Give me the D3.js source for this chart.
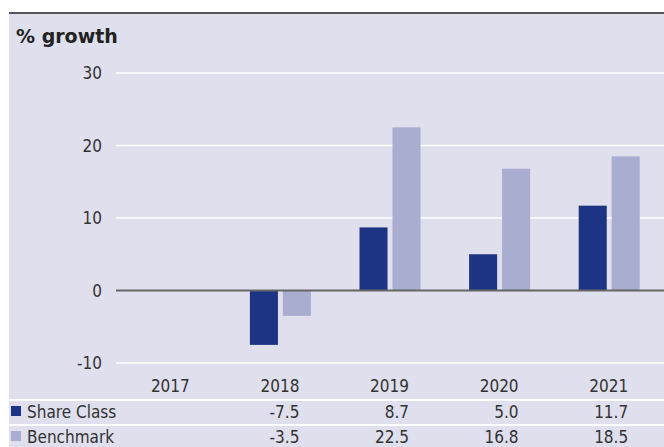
<!DOCTYPE html>
<html>
<head>
<meta charset="utf-8">
<script src="https://cdn.jsdelivr.net/npm/d3@7"></script>
<style>
  body { margin: 0; background: #fff; }
  svg { display: block; }
  text { font-family: "DejaVu Sans Condensed", "DejaVu Sans", sans-serif; fill: #333; }
</style>
</head>
<body>
<svg id="chart"></svg>
<script>
// data
var years = ["2017", "2018", "2019", "2020", "2021"];
var shareClass = [null, -7.5, 8.7, 5.0, 11.7];
var benchmark = [null, -3.5, 22.5, 16.8, 18.5];
var seriesNames = ["Share Class", "Benchmark"];
var yTicks = [-10, 0, 10, 20, 30];

var width = 664, height = 447;
var margin = {top: 13, left: 116, right: 0};
var colors = ["#1c3483", "#a9adcf"];

// plain hyphen instead of d3's unicode minus
var fmt = d => d3.format(".1f")(d).replace("\u2212", "-");

var svg = d3.select("#chart")
    .attr("width", width)
    .attr("height", height);

// panel background
svg.append("rect")
    .attr("x", 9).attr("y", margin.top)
    .attr("width", width - 9).attr("height", height - margin.top)
    .attr("fill", "#dfdfed");

svg.append("line")
    .attr("x1", 9).attr("x2", width)
    .attr("y1", margin.top).attr("y2", margin.top)
    .attr("stroke", "#555").attr("stroke-width", 2);

svg.append("text")
    .attr("x", 16).attr("y", 43)
    .style("font-family", "'DejaVu Sans', sans-serif")
    .style("font-weight", "bold")
    .style("font-size", "19px")
    .style("fill", "#222")
    .text("% growth");

var x = d3.scaleBand()
    .domain(years)
    .range([margin.left, width - margin.right]);

var y = d3.scaleLinear()
    .domain([-10, 30])
    .range([363, 73]);

var x1 = d3.scaleBand()
    .domain(seriesNames)
    .range([0, 61])
    .paddingInner(0.15);

// gridlines
svg.append("g")
    .selectAll("line")
    .data(yTicks.filter(d => d != 0))
    .enter().append("line")
    .attr("x1", margin.left).attr("x2", width)
    .attr("y1", d => y(d)).attr("y2", d => y(d))
    .attr("stroke", "#fff").attr("stroke-width", 1.5);

// y axis labels
var yAxis = d3.axisLeft(y).tickValues(yTicks).tickSize(0).tickPadding(14)
    .tickFormat(d => String(d));
var gy = svg.append("g")
    .attr("transform", "translate(" + margin.left + ",0)")
    .call(yAxis);
gy.select(".domain").remove();
gy.selectAll("text")
    .style("font-size", "17px")
    .attr("font-family", null)
    .attr("dy", "0.35em");

// bars
var rows = years.map((yr, i) => ({year: yr, values: [shareClass[i], benchmark[i]]}));
var groups = svg.append("g")
    .selectAll("g")
    .data(rows)
    .enter().append("g")
    .attr("transform", d => "translate(" + (x(d.year) + x.bandwidth() / 2 - 30.5) + ",0)");

groups.selectAll("rect")
    .data(d => d.values.map((v, j) => ({name: seriesNames[j], value: v, j: j})))
    .enter().append("rect")
    .filter(d => d.value != null)
    .attr("x", d => x1(d.name))
    .attr("width", x1.bandwidth())
    .attr("y", d => y(Math.max(0, d.value)))
    .attr("height", d => Math.abs(y(d.value) - y(0)))
    .attr("fill", d => colors[d.j]);

// zero line
svg.append("line")
    .attr("x1", margin.left).attr("x2", width)
    .attr("y1", y(0)).attr("y2", y(0))
    .attr("stroke", "#666").attr("stroke-width", 2);

// data table
var rowY = [392, 418, 443];
var sepY = [400, 425];

svg.append("g")
    .selectAll("line")
    .data(sepY)
    .enter().append("line")
    .attr("x1", 9).attr("x2", width)
    .attr("y1", d => d).attr("y2", d => d)
    .attr("stroke", "#fff").attr("stroke-width", 2);

var colRight = d => x(d) + x.bandwidth() / 2 + 19;

svg.append("g")
    .selectAll("text")
    .data(years)
    .enter().append("text")
    .attr("x", d => colRight(d))
    .attr("y", rowY[0])
    .attr("text-anchor", "end")
    .style("font-size", "17px")
    .text(d => d);

[shareClass, benchmark].forEach(function(vals, j) {
    svg.append("rect")
        .attr("x", 11).attr("y", rowY[j + 1] - 12)
        .attr("width", 10).attr("height", 10)
        .attr("fill", colors[j]);

    svg.append("text")
        .attr("x", 27).attr("y", rowY[j + 1])
        .style("font-size", "17px")
        .text(seriesNames[j]);

    svg.append("g")
        .selectAll("text")
        .data(years)
        .enter().append("text")
        .attr("x", d => colRight(d))
        .attr("y", rowY[j + 1])
        .attr("text-anchor", "end")
        .style("font-size", "17px")
        .text((d, i) => vals[i] == null ? "" : fmt(vals[i]));
});
</script>
</body>
</html>
